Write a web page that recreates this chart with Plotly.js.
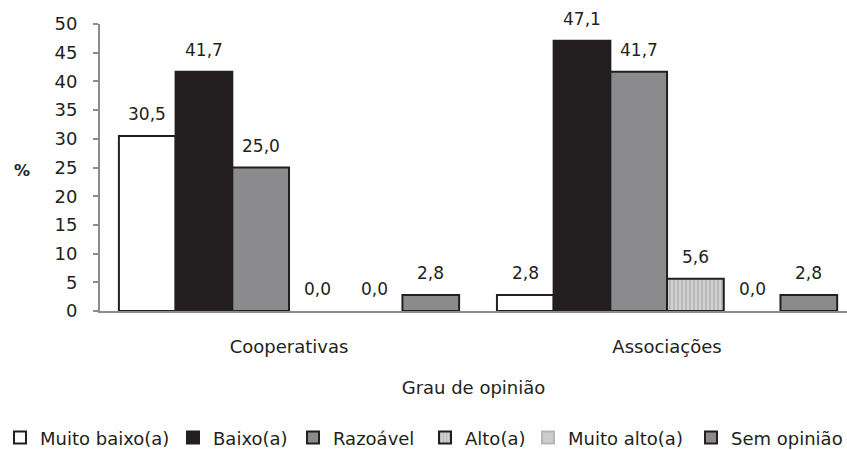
<!DOCTYPE html>
<html>
<head>
<meta charset="utf-8">
<script src="https://cdn.plot.ly/plotly-3.0.1.min.js"></script>
<style>html,body{margin:0;padding:0;background:#fff;}#chart{width:847px;height:450px;}</style>
</head>
<body>
<div id="chart"></div>
<script>
const categories = ['Cooperativas', 'Associações'];
const seriesNames = ['Muito baixo(a)', 'Baixo(a)', 'Razoável', 'Alto(a)', 'Muito alto(a)', 'Sem opinião'];
const muitoBaixo = [30.5, 2.8];
const baixo = [41.7, 47.1];
const razoavel = [25.0, 41.7];
const alto = [0.0, 5.6];
const muitoAlto = [0.0, 0.0];
const semOpiniao = [2.8, 2.8];
const yTicks = [0, 5, 10, 15, 20, 25, 30, 35, 40, 45, 50];

const FONT = 'DejaVu Sans, Liberation Sans, Arial, sans-serif';
const TXT = '#231f20';
const seriesValues = [muitoBaixo, baixo, razoavel, alto, muitoAlto, semOpiniao];
const fills = ['#ffffff', '#231f20', '#8b8b8d', '#c9c9c9', '#cdcdcd', '#8b8b8d'];
const lineColors = ['#231f20', '#231f20', '#231f20', '#231f20', '#b5b5b5', '#231f20'];
const patterns = [null, null, null, {shape: '|', fgcolor: '#a9a9a9', bgcolor: '#d2d2d2', size: 4, solidity: 0.3}, null, null];
const bargap = 0.1;
// legend text start positions (px) in the reference
const legendTextX = [38, 215, 335, 467, 570, 733];
const legendIds = ['legend', 'legend2', 'legend3', 'legend4', 'legend5', 'legend6'];

const traces = seriesNames.map((name, i) => {
  const m = {color: fills[i], line: {color: lineColors[i], width: 2}};
  if (patterns[i]) m.pattern = patterns[i];
  return {type: 'bar', name: name, x: categories,
          // zero values draw no bar (only their label), as in the reference
          y: seriesValues[i].map(v => (v > 0 ? v : null)),
          marker: m, hoverinfo: 'none', legend: legendIds[i]};
});

const barW = (1 - bargap) / seriesNames.length;
const annotations = [];
seriesValues.forEach((vals, i) => {
  vals.forEach((v, j) => {
    annotations.push({
      x: j + (i - (seriesNames.length - 1) / 2) * barW,
      y: v, xref: 'x', yref: 'y',
      text: v.toFixed(1).replace('.', ','),
      showarrow: false, yanchor: 'bottom', yshift: 10,
      font: {family: FONT, size: 17, color: TXT}
    });
  });
});
annotations.push({
  x: (22 - 100) / 747, y: 0.49, xref: 'paper', yref: 'paper', text: '<b>%</b>', showarrow: false,
  xanchor: 'center', yanchor: 'middle',
  font: {family: FONT, size: 16, color: TXT}
});

const layout = {
  width: 847, height: 450,
  margin: {l: 100, r: 0, t: 24, b: 139},
  paper_bgcolor: '#ffffff', plot_bgcolor: '#ffffff',
  barmode: 'group', bargap: bargap, bargroupgap: 0,
  separators: ', ',
  font: {family: FONT, size: 18, color: TXT},
  xaxis: {
    type: 'category', range: [-0.5, 1.476], showgrid: false, zeroline: false,
    showline: true, linecolor: '#8c8c8c', linewidth: 2, ticks: '',
    ticklabelstandoff: 18,
    tickfont: {family: FONT, size: 18, color: TXT},
    title: {text: 'Grau de opinião', font: {family: FONT, size: 18, color: TXT}, standoff: 26}
  },
  yaxis: {
    range: [0, 50], tickvals: yTicks, ticktext: yTicks.map(String),
    showgrid: false, zeroline: false, showline: true, linecolor: '#8c8c8c', linewidth: 2,
    ticks: 'outside', ticklen: 5, tickcolor: '#8c8c8c', tickwidth: 2,
    tickfont: {family: FONT, size: 18, color: TXT}, ticklabelstandoff: 12
  },
  showlegend: true,
  annotations: annotations
};
legendIds.forEach((id, i) => {
  layout[id] = {
    orientation: 'h', xref: 'container', yref: 'container',
    x: Math.max(0, (legendTextX[i] - 42) / 847), xanchor: 'left', y: 0.068, yanchor: 'top',
    font: {family: FONT, size: 18, color: TXT},
    itemwidth: 30, bgcolor: 'rgba(0,0,0,0)'
  };
});

Plotly.newPlot('chart', traces, layout, {displayModeBar: false, staticPlot: true});
</script>
</body>
</html>
